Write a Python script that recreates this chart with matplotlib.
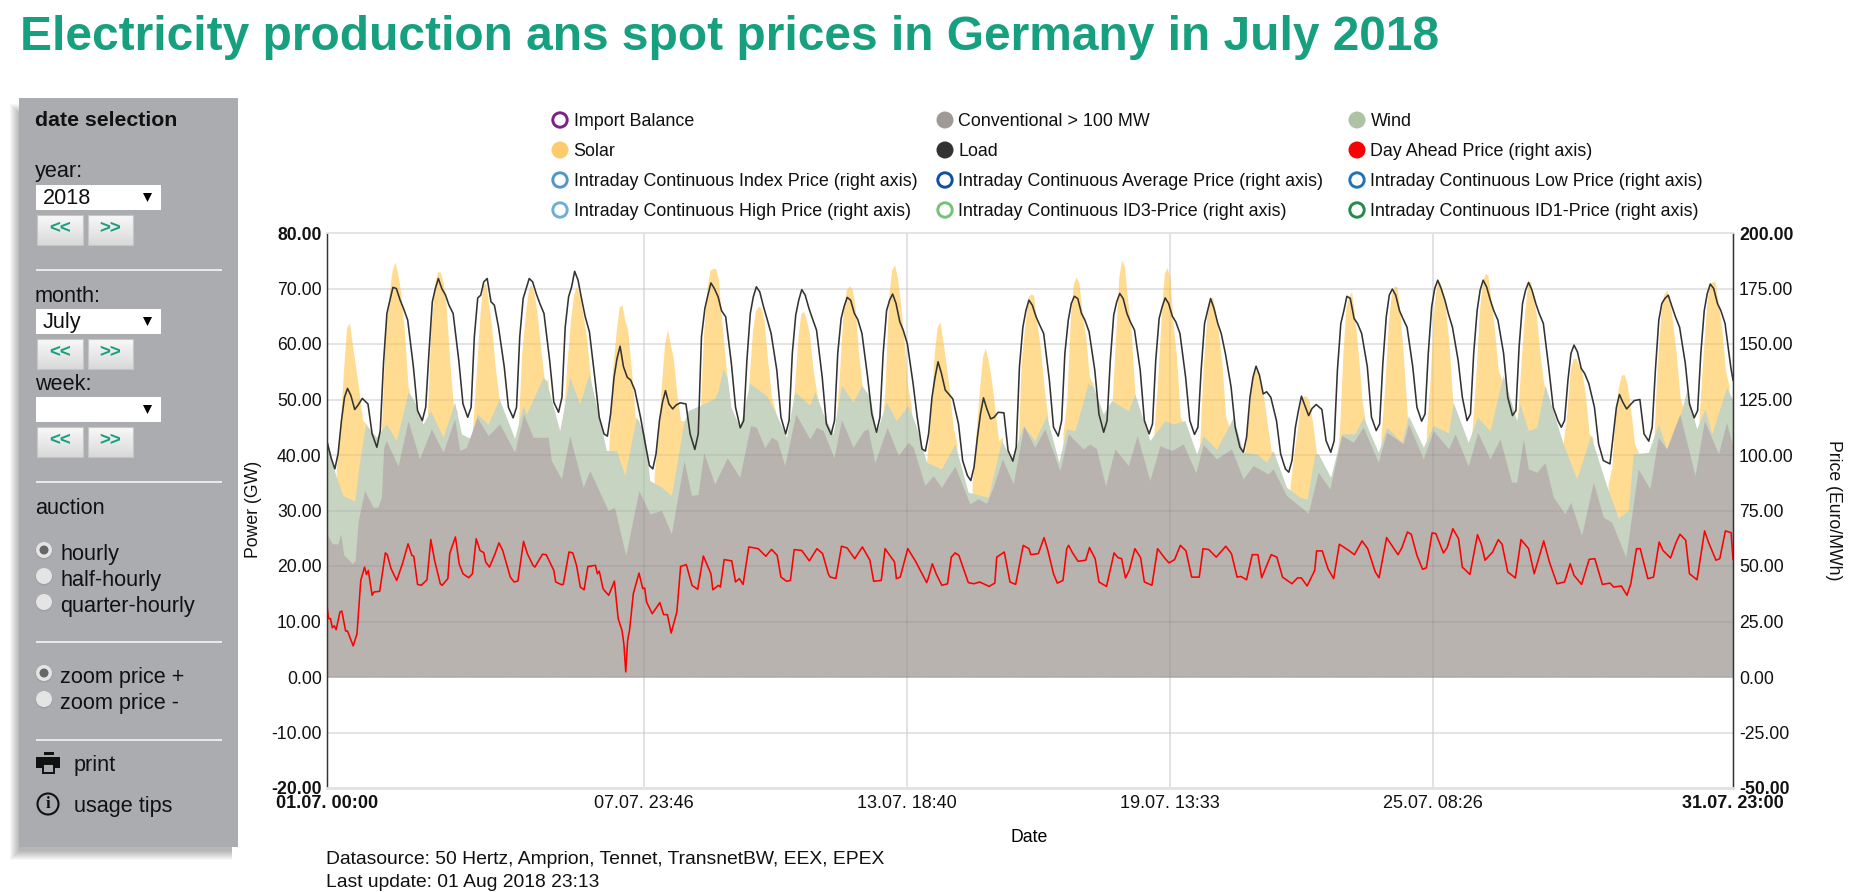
import matplotlib
matplotlib.use('Agg')
import matplotlib.pyplot as plt
import numpy as np
from matplotlib.patches import Rectangle, Circle, Polygon

plt.rcParams['font.family'] = ['Liberation Sans', 'DejaVu Sans']

# x axis: hours since 01.07. 00:00
tick_hours = [0, 167.77, 306.67, 445.55, 584.43, 743]
tick_labels = ['01.07. 00:00', '07.07. 23:46', '13.07. 18:40', '19.07. 13:33', '25.07. 08:26', '31.07. 23:00']
power_ticks = [80, 70, 60, 50, 40, 30, 20, 10, 0, -10, -20]
power_labels = ['80.00', '70.00', '60.00', '50.00', '40.00', '30.00', '20.00', '10.00', '0.00', '-10.00', '-20.00']
price_ticks = [200, 175, 150, 125, 100, 75, 50, 25, 0, -25, -50]
price_labels = ['200.00', '175.00', '150.00', '125.00', '100.00', '75.00', '50.00', '25.00', '0.00', '-25.00', '-50.00']

# conventional generation, GW
conv_hours = [0, 3, 6, 7.4, 9, 13.6, 15, 16.6, 20, 24.5, 27, 28.9, 30.1, 31.5, 37.7, 43, 49, 55.3, 61.5, 67.6, 70.3, 73.8,
              79.4, 85.3, 91.4, 99.3, 104, 109, 117, 118.7, 124, 128.4, 135.5, 139, 148.7, 152, 158, 164.9, 170.7,
              176.9, 182.1, 188.8, 192.7, 196.2, 199.2, 205, 211.6, 218.2, 223.9, 227, 231.5, 234.9, 238, 242,
              247.8, 255.2, 258.8, 262.3, 268, 272, 278.1, 283.8, 286, 289.6, 296.1, 302, 307.2, 309.9, 316,
              320.4, 324.8, 331.9, 339.8, 344.2, 348.6, 352.1, 357, 362.7, 368.3, 374.1, 379.4, 387.4, 391.8,
              399.7, 403.2, 406.7, 411.5, 416.4, 423.5, 428.2, 434.9, 440.2, 446.4, 452.5, 459.2, 463.1, 470.1,
              478, 484.2, 489.5, 497.4, 500, 507.1, 518.6, 523.8, 530, 536.2, 542.4, 547.6, 555.6, 560, 568.8,
              571.5, 579.4, 584.7, 592.7, 596.2, 603.1, 608.1, 614.6, 619.9, 626, 628.7, 632.2, 634.9, 639.3,
              643.7, 648.1, 654.2, 657.2, 663, 669.2, 674.5, 678.9, 686.4, 692.9, 699.1, 703.5, 707.9, 714.9,
              722.9, 727.9, 735.3, 739.6, 743]
conv_gw = [25.8, 24, 24, 25.8, 22, 20.4, 21, 28, 33.6, 30.6, 30.6, 32.4, 41.4, 42.6, 38, 46.2, 39.3, 44.7, 40.5, 46.5, 40.8, 41.4,
           46.8, 43.5, 45.6, 40.5, 47.4, 43.2, 43.2, 39, 35.7, 43.5, 34.2, 37.2, 30, 30.6, 21.9, 33.6, 29.4,
           30, 25.8, 39, 32.7, 32.9, 40.4, 34.8, 39.5, 36, 45.3, 45, 41.3, 43.2, 42.6, 38.1,
           47.4, 42.9, 45, 44.4, 39.5, 46.4, 41.4, 44.4, 44.7, 38.6, 45, 39.9, 42.3, 41.4, 34.5,
           36.3, 34.2, 38, 31.2, 32.1, 31.3, 34.2, 39.3, 34.8, 45.2, 41.4, 44.7, 37.2, 43.8,
           41.1, 42, 41.1, 34.4, 41.1, 38.1, 43.5, 35.4, 41.7, 40.8, 42, 36.8, 41.9, 39.3,
           41.1, 35.7, 38.1, 36.6, 37.5, 32.7, 29.5, 36.9, 33.9, 43.5, 42.3, 45, 38.7, 44.1, 42,
           45.6, 39.3, 44.4, 41.1, 43.8, 38, 44.1, 39.3, 42.9, 35.1, 35.1, 42.9, 37.5, 36.9,
           38.6, 32.4, 29.4, 31.5, 25.5, 35.1, 28.8, 27.9, 21.6, 37.5, 33.9, 43.2, 41.1, 47.4,
           36.3, 46.2, 40.2, 45.9, 41.4]

# top of the wind band (conventional + wind), GW
wind_hours = [0, 3, 5.1, 8.6, 14.8, 17.4, 20.6, 26.2, 31.5, 36.8, 43, 46.5, 50.9, 54.8, 61.5, 67.6, 71.2, 76.4, 79.4,
              85.3, 91.1, 99.3, 103.8, 105.5, 114.3, 116, 123.1, 128.4, 133.7, 138.6, 147.8, 153.1, 157.5, 163.6,
              168, 170.7, 176.9, 182.1, 188.7, 191, 198.9, 205, 206.8, 209.4, 211.5, 213.6, 218.2, 223.5, 232.3, 236.7, 242.9, 247.3,
              255.2, 257.9, 262.3, 267.6, 272, 278.1, 282.6, 286.9, 290.5, 295.7, 301, 307.2, 311.6, 316.9, 324.8,
              331.9, 338.9, 349.5, 356.6, 361.8, 368, 374.1, 380.3, 386.8, 390.9, 395.3, 402.3, 405, 410.3, 414.7,
              423.5, 427, 434.9, 442.8, 447.2, 453.4, 459.6, 463.1, 470.1, 479, 484.2, 491.3, 496.6, 500, 507.1,
              514.2, 518, 522.1, 523.9, 530.4, 536.2, 543.2, 547.6, 555.6, 560, 568, 571.5, 579.4, 584.7, 592.7,
              595.2, 603.1, 608, 614.6, 621.6, 628.7, 630.4, 634.9, 639.3, 643.7, 653.3, 660.4, 667.8, 676.2,
              682.3, 687.7, 690.3, 698.3, 703.5, 707.9, 712.3, 718.5, 723.8, 728.2, 731.8, 739.6, 743]
wind_gw = [43.2, 38.4, 36, 32.7, 31.7, 39, 45.6, 43.2, 45.6, 42.6, 51.4, 49.6, 45.6, 48, 43.2, 49.5, 43.8, 42.9, 47.4,
           45.6, 50.1, 43, 49, 47.4, 54, 53.4, 44.4, 54, 49.2, 54.7, 40.8, 40.8, 36.3, 46.8,
           43.8, 35.4, 34.2, 32.7, 45.9, 48, 49.2, 50.2, 51.6, 55.6, 54, 48.6, 45, 52.9, 50.7, 48, 43.2, 51.4,
           49, 51.4, 47.4, 43.8, 52.6, 49.5, 52.6, 50.5, 44.1, 49.5, 46.2, 49, 45, 38.7, 37.5,
           42, 33.3, 32.4, 42.6, 39, 45.3, 42.6, 47.1, 38.7, 44.7, 44.4, 52.9, 52.3, 47.4, 49.8,
           48, 51, 42.6, 46.2, 45.6, 46.2, 40.2, 43.5, 41, 46.8, 40.5, 40.2, 38.7, 40.8, 34.2,
           32.4, 32, 40.2, 40.2, 36, 43.8, 43.8, 46.8, 40.5, 45, 42.3, 47.1, 41.4, 45.3, 44,
           49.5, 42.3, 46.8, 44.4, 54.4, 46.2, 49.2, 44.4, 45, 52.6, 42, 35.7, 43.5, 34.5,
           28.7, 30, 40.2, 40.5, 45.6, 41.1, 43.2, 51.6, 44.7, 48.3, 43.8, 52.2, 49.8]

# top of the solar band for each day at these hours of the day, GW
solar_offsets = [5, 7, 9, 10.5, 12, 13.5, 15, 17, 19, 21]
solar_top = [
    [37.2, 45, 55.9, 63, 63.8, 60, 56.5, 51.7, 46.2, 45.6],
    [45, 62, 69, 73.2, 74.8, 72.7, 69.7, 62.5, 52.3, 49.8],
    [45.6, 62.5, 70.9, 73, 73, 71.2, 67.3, 57, 48.6, 48],
    [44.4, 54.7, 65.5, 70.6, 70.9, 67.3, 63.7, 55.9, 50.5, 47.4],
    [43.8, 58.3, 65.5, 69.7, 70.8, 69.4, 66, 59.5, 53.5, 53.5],
    [46.2, 57, 64.9, 69, 70.5, 69, 66, 61.9, 55.3, 48.6],
    [40.8, 55.3, 62.5, 66.7, 67, 64.3, 62.5, 55.3, 46.8, 46.2],
    [36.6, 43.2, 53.5, 60, 62.6, 60, 57.7, 51, 46.2, 46.2],
    [43.8, 61.3, 70.3, 73.3, 73.6, 73.6, 71.5, 63, 55.9, 49.8],
    [41.4, 52.9, 62.5, 66, 66.8, 66.5, 64.3, 57, 50.5, 48],
    [43.8, 51.6, 61.3, 65.5, 65.9, 64.3, 61.9, 55.3, 51, 48],
    [45.6, 55.3, 66.7, 69.7, 70.5, 70, 67.3, 58.3, 52.3, 50.5],
    [43.2, 52.3, 69, 73.3, 74.3, 72, 67.9, 60.7, 52.3, 48.6],
    [39, 47.4, 58.3, 63, 64, 60.7, 57, 51.7, 45, 42],
    [34.8, 43.8, 52.3, 57.7, 59.3, 57, 54, 48.6, 42.6, 43.2],
    [39, 57, 63.7, 68.5, 69, 68.8, 64.3, 59.5, 52.3, 46.8],
    [43.8, 49.8, 65.5, 70.9, 72.1, 70.9, 66, 61.3, 54, 52.9],
    [46.2, 49.8, 62.5, 72.1, 75.2, 73.9, 68.5, 62.5, 51, 48],
    [43.8, 53.5, 65.5, 72.7, 73.8, 72, 64.3, 57.7, 46.8, 45.6],
    [40.2, 55.3, 64.9, 67.9, 68.5, 66, 62.5, 56.5, 46.8, 45],
    [40.2, 46.8, 54, 55.3, 55.1, 52.3, 50.5, 45.6, 40.8, 40.2],
    [34.5, 40.2, 45, 49.8, 50.6, 50.6, 49.8, 45.6, 40.2, 39],
    [36.6, 43.8, 58.9, 66.7, 68.6, 69.4, 65.5, 58.3, 49.9, 45.6],
    [43.2, 52.3, 64.3, 69, 70.5, 70.3, 66, 57, 46.8, 45],
    [43.8, 54, 66.7, 70.9, 71.2, 69.7, 66.7, 60, 49.2, 46.8],
    [43.8, 53.5, 66, 70.9, 72.7, 72.4, 68.5, 62.5, 55.3, 53.5],
    [46.2, 56.5, 66, 70.6, 71.4, 68.5, 65.5, 58.3, 52.9, 49.8],
    [41.4, 46.8, 55.3, 57.4, 57.4, 56.2, 55.3, 51, 43.8, 43.2],
    [34.8, 37.8, 48.6, 52.3, 54.4, 54.5, 52.9, 48, 42, 40.5],
    [41.4, 56.5, 66, 69, 69.7, 67.9, 64.3, 58.3, 50.5, 48],
    [46.2, 57, 66.7, 70.9, 71.2, 71.3, 67.9, 63, 55.3, 52.3],
]

# load for each day at these hours of the day, GW
load_offsets = [0, 2.5, 4.3, 6, 7.8, 9.4, 11, 12.8, 14.8, 16.6, 18.8, 21.8]
load_gw = [
    [42.6, 39.3, 37.5, 40.2, 46.2, 50.4, 52, 50.7, 48.2, 49, 50.2, 49.2],
    [43.8, 41.4, 44.4, 56.5, 65.5, 67.9, 70.2, 70, 67.9, 66.4, 64.3, 55.9],
    [48, 46.2, 48.6, 58.3, 67.6, 70, 71.8, 70, 68.8, 67, 65.5, 57],
    [49.2, 46.8, 48.6, 61.3, 68.3, 68.8, 71.2, 71.8, 67.6, 67, 63, 55.9],
    [48.6, 46.7, 48.6, 61.3, 68.2, 70, 71.8, 71.2, 69, 67.3, 65.5, 57],
    [49.5, 47.7, 50.4, 63, 68.5, 70.3, 73.1, 71.5, 67.9, 64.9, 62.2, 53.5],
    [46.8, 43.8, 43.4, 47.4, 54, 57.4, 59.6, 55.9, 54, 53.5, 51.7, 46.8],
    [42.6, 38.1, 37.5, 40.2, 46.2, 49.5, 51.6, 49.2, 48.3, 49, 49.4, 49.2],
    [43.8, 41, 43.8, 61.3, 66.4, 68.8, 71, 70, 68.5, 66, 64.9, 56.5],
    [48.6, 44.9, 46.2, 57, 65.5, 68.5, 70.3, 69.4, 66.7, 64.6, 61.9, 55.3],
    [46.8, 43.8, 46.2, 58.3, 65.2, 67.9, 69.8, 68.8, 66.4, 64.6, 62.5, 54],
    [45.6, 43.7, 46.2, 58.3, 64.6, 66.8, 68.4, 67.9, 65.5, 64.4, 61.9, 54],
    [47.4, 44.1, 46.8, 58.3, 66, 67.9, 69, 67.3, 64, 62.5, 60, 52.9],
    [46.8, 41.1, 40.7, 43.8, 50.4, 54, 56.8, 54.7, 51.7, 51, 50.1, 45.6],
    [39, 36.3, 35.4, 37.8, 43.2, 47.4, 50.3, 48.3, 46.5, 46.8, 47.7, 47.6],
    [40.8, 38.9, 41.4, 55.9, 63, 66, 67.9, 67, 64.9, 63.5, 61.9, 53.5],
    [45, 43.4, 46.2, 58.3, 64.3, 67.3, 68.6, 68.2, 65.5, 64.3, 62.2, 55.3],
    [47.4, 44.1, 46.2, 57, 65.2, 67.6, 69.1, 68.2, 65.5, 64, 62.5, 55.3],
    [46.2, 43.8, 45.6, 57, 64.6, 66.7, 68.3, 67.3, 65, 64, 61.9, 54],
    [46.2, 43.7, 45, 55.3, 63.7, 66, 68.2, 66.4, 63.7, 61.9, 58.3, 52.3],
    [45, 41.4, 40.5, 43.2, 50.4, 54, 56, 54.4, 51, 51.4, 50.4, 46.2],
    [40.2, 37.5, 36.9, 39, 45, 48, 50.6, 48.9, 47.1, 48.4, 49.1, 48.2],
    [42.6, 40.5, 42.6, 55.3, 63.7, 66, 68.6, 68.2, 64.6, 63.7, 61.9, 55.9],
    [46.8, 44.4, 45.6, 56.5, 64.9, 68.8, 69.9, 68.8, 66, 64.6, 63, 55.9],
    [48.6, 46.1, 47.4, 58.3, 66.7, 70, 71.5, 70, 67.9, 65.5, 63, 57],
    [50.4, 46.2, 47.4, 58.3, 66, 69.7, 71.5, 70.3, 67.9, 66, 64.3, 58.3],
    [50.4, 47.1, 48, 59.5, 67.3, 69.7, 71.1, 69.7, 67.3, 65.5, 63.7, 55.3],
    [48.6, 46.2, 45, 46.2, 53.5, 58.3, 59.8, 58.6, 55.6, 54.7, 52.9, 48.6],
    [42, 39, 38.7, 38.4, 43.8, 48.6, 50.9, 49.5, 48.3, 49, 49.8, 50],
    [43.8, 42.5, 45, 55.3, 64.3, 67.3, 68.2, 68.8, 66.7, 64.9, 63, 56.5],
    [49.2, 46.7, 48, 58.3, 66, 69.1, 70.8, 70, 67.3, 66, 63.7, 55.9],
]
load_end = 53.5

# day ahead price, Euro/MWh
price_hours = [0, 1, 2, 3, 4, 5, 7, 8, 10, 11, 14, 16, 18, 20, 21, 22, 24, 25, 28, 31, 32, 34, 37, 40, 43, 45, 46, 48,
               50, 53, 55, 57, 60, 61, 64, 65, 68, 70, 72, 75, 77, 79, 81, 83, 84, 86, 89, 91, 93, 97, 99, 101, 104,
               106, 109, 110, 114, 116, 120, 121, 124, 125, 128, 130, 132, 134, 136, 138, 142, 143, 144, 146, 147,
               149, 152, 154, 156, 157, 158, 159, 160, 162, 165, 167, 168, 169, 172, 176, 178, 180, 182, 185, 187,
               190, 193, 196, 199, 203, 204, 207, 208, 210, 214, 216, 218, 220, 223, 228, 232, 235, 238, 240, 243,
               245, 247, 251, 255, 259, 262, 265, 266, 269, 272, 275, 279, 283, 287, 289, 293, 295, 300, 301, 303,
               307, 311, 317, 318, 320, 322, 325, 328, 330, 332, 334, 339, 342, 345, 350, 353, 354, 358, 361, 364,
               368, 371, 372, 376, 379, 381, 384, 386, 389, 391, 392, 394, 397, 401, 403, 406, 408, 412, 416, 418,
               420, 422, 424, 427, 430, 432, 436, 439, 443, 445, 448, 451, 454, 457, 461, 463, 466, 470, 475, 478,
               481, 483, 486, 489, 492, 494, 499, 502, 505, 510, 513, 515, 518, 522, 523, 526, 529, 532, 535, 540,
               543, 547, 550, 554, 556, 560, 566, 568, 571, 573, 576, 579, 581, 584, 586, 590, 592, 595, 598, 600,
               604, 608, 610, 612, 616, 619, 621, 624, 628, 631, 635, 638, 643, 646, 650, 654, 657, 659, 663, 667,
               670, 674, 678, 680, 684, 687, 689, 692, 694, 698, 701, 704, 706, 710, 713, 715, 718, 720, 724, 728,
               730, 734, 736, 739, 742, 743]
price_eur = [33, 26.3, 26.3, 22.2, 23.1, 21.3, 29.3, 29.7, 20.7, 20.7, 14, 19.5, 43.5, 49.5, 46.2, 48, 36.8, 38.3, 38.6,
             55.9, 55.1, 48.8, 43.5, 51, 60, 54.8, 54.4, 41.7, 41.3, 43.8, 61.9, 52.6, 42, 41.3, 44.3, 55.6, 63.1, 51,
             46.5, 44.7, 46.5, 62.3, 57, 56, 51.8, 49.5, 55.6, 60.4, 57, 45, 42.8, 43.2, 61.1, 55.6, 50.3, 49.5, 55.3,
             55.1, 48, 42.8, 41.6, 41.7, 56.3, 55.9, 50.3, 40.5, 39.3, 49.8, 50.3, 46.5, 47.7, 39.8, 38.7, 36.8, 43.2,
             26.3, 21, 15, 2.3, 16.5, 21, 37.5, 46.8, 39.8, 40.1, 33.8, 28.5, 33.5, 28.1, 28.1, 19.8, 29.3, 49.8, 50.6,
             41.3, 39.5, 54.5, 46.5, 39.3, 41.3, 40.5, 52.9, 52.3, 42.8, 44.3, 41.7, 58.6, 57.8, 54.4, 57.5, 54.8, 45,
             43.1, 43.5, 57.4, 57, 52.3, 57.8, 55.6, 46.5, 45, 44.4, 58.9, 58.1, 53.3, 58.6, 52.6, 43.1, 43.5, 57.8,
             51.8, 44.3, 45, 57.8, 52.3, 42.5, 45, 51, 46.5, 41.3, 42, 54, 55.9, 54.8, 42.5, 42, 42.8, 40.8, 42.3, 54,
             56.3, 42.8, 41.7, 59.3, 57.8, 55.1, 55.6, 62.8, 57, 46.5, 42.3, 43.5, 57.8, 59.3, 56, 52.1, 52.6, 58.3,
             53.3, 42.8, 40.8, 55.9, 53.8, 53.3, 44.6, 48, 57.8, 53.8, 42.8, 41.3, 57.8, 53.3, 51.4, 52.9, 59.3, 56.8,
             45, 45, 57.8, 57.4, 54, 58.9, 55.6, 45, 45.3, 43.8, 55.1, 55.1, 44.7, 55.1, 54, 45, 42, 44.7, 44.6, 41,
             48, 56.8, 56.8, 48.8, 44.3, 59.8, 57, 55.1, 61.3, 57.8, 47.3, 44.7, 62.8, 55.1, 58.1, 65.3, 64.3, 54.8,
             48.5, 49.2, 64.9, 64.6, 55.9, 58.3, 66.8, 62.3, 49.5, 46.2, 64.1, 59.8, 52.6, 56.3, 61.9, 59.8, 47.3,
             44.6, 61.9, 57.8, 46.5, 61.3, 51.8, 42, 42.8, 51, 45.8, 41.7, 53, 53.3, 41.7, 42.3, 40.5, 41, 36.8, 42,
             57.8, 57.8, 44.3, 45, 60.8, 57, 53.6, 60.8, 64.3, 61.6, 46.5, 43.8, 65.8, 60.8, 52.6, 53.3, 65.8, 65, 53]

legend_names = ['Import Balance', 'Conventional > 100 MW', 'Wind',
                'Solar', 'Load', 'Day Ahead Price (right axis)',
                'Intraday Continuous Index Price (right axis)', 'Intraday Continuous Average Price (right axis)',
                'Intraday Continuous Low Price (right axis)',
                'Intraday Continuous High Price (right axis)', 'Intraday Continuous ID3-Price (right axis)',
                'Intraday Continuous ID1-Price (right axis)']
legend_colors = ['#7B2383', '#A09A96', '#AEC3A5', '#FECB6B', '#333333', '#FF0000',
                 '#4F97C9', '#0D4FA0', '#2173B7', '#6CAEDA', '#74C476', '#238B45']
legend_filled = [False, True, True, True, True, True, False, False, False, False, False, False]

W, H = 1855, 892
L, R, T, B = 326.7, 1733, 233, 788
TEAL = '#17A07F'

fig = plt.figure(figsize=(W / 100, H / 100), dpi=100, facecolor='white')

# page furniture drawn in pixel coordinates
ui = fig.add_axes([0, 0, 1, 1], zorder=0)
ui.set_xlim(0, W)
ui.set_ylim(H, 0)
ui.axis('off')


def px_text(x, y, s, size=15.6, **kw):
    ui.text(x, y, s, fontsize=size, va='baseline', color=kw.pop('color', '#111111'), **kw)


def select_box(y, label):
    ui.add_patch(Rectangle((36, y), 125, 25, fc='white', ec='none', zorder=3))
    ui.add_patch(Polygon([[143, y + 8], [152, y + 8], [147.5, y + 17]], fc='black', ec='none', zorder=4))
    if label:
        px_text(42.5, y + 19, label, zorder=4)


def buttons(y):
    grad = np.linspace(0.97, 0.85, 30).reshape(-1, 1)
    for x0, x1, s in [(37, 83, '<<'), (88, 133, '>>')]:
        ui.imshow(grad, extent=(x0, x1, y + 30, y), aspect='auto', cmap='gray', vmin=0, vmax=1, zorder=3)
        ui.add_patch(Rectangle((x0, y), x1 - x0, 30, fc='none', ec='#C6C6C6', lw=0.8, zorder=4))
        ui.text((x0 + x1) / 2, y + 14, s, color=TEAL, fontsize=13.5, fontweight='bold', ha='center', va='center', zorder=5)


def radio(y, selected):
    ui.add_patch(Circle((44, y + 1), 8.5, fc='#9E9FA2', ec='none', zorder=3))
    ui.add_patch(Circle((44, y), 8, fc='#E4E4E4', ec='none', zorder=4))
    if selected:
        ui.add_patch(Circle((44, y), 4.5, fc='#666666', ec='none', zorder=5))


ui.text(20, 50, 'Electricity production ans spot prices in Germany in July 2018', color=TEAL,
        fontsize=34.5, fontweight='bold', va='baseline')

# side panel with soft shadow
for i in range(10):
    ui.add_patch(Rectangle((10 + i, 104 + i), 222 - i, 756 - 2 * i, fc='black', ec='none', alpha=0.03, zorder=1))
ui.add_patch(Rectangle((19, 98), 219, 749, fc='#ABACB0', ec='none', zorder=2))

px_text(35, 126, 'date selection', size=15.3, fontweight='bold', zorder=4)
px_text(35, 177, 'year:', zorder=4)
select_box(185, '2018')
buttons(215)
px_text(35, 302, 'month:', zorder=4)
select_box(309, 'July')
buttons(339)
px_text(35, 390, 'week:', zorder=4)
select_box(397, '')
buttons(427)
px_text(35, 514, 'auction', zorder=4)
radio(550, True)
px_text(60, 560, 'hourly', zorder=4)
radio(576, False)
px_text(60, 586, 'half-hourly', zorder=4)
radio(602, False)
px_text(60, 612, 'quarter-hourly', zorder=4)
radio(673, True)
px_text(60, 683, 'zoom price +', zorder=4)
radio(699, False)
px_text(60, 709, 'zoom price -', zorder=4)
for y in [269.5, 481.7, 641.7, 739.5]:
    ui.add_patch(Rectangle((36, y - 1), 186, 2, fc='#E8E8E8', ec='none', zorder=3))

# print icon
ui.add_patch(Rectangle((44, 752), 10, 3, fc='#111111', ec='none', zorder=4))
ui.add_patch(Rectangle((36, 757), 24, 11, fc='#111111', ec='none', zorder=4))
ui.add_patch(Rectangle((43, 764), 11, 9, fc='#ABACB0', ec='#111111', lw=1.4, zorder=5))
px_text(74, 771, 'print', zorder=4)
# info icon
ui.add_patch(Circle((48, 804), 10.5, fc='none', ec='#111111', lw=1.5, zorder=4))
ui.text(48, 804.5, 'i', family=['Liberation Serif', 'DejaVu Serif'], fontweight='bold', fontsize=12,
        ha='center', va='center', color='#111111', zorder=4)
px_text(74, 812, 'usage tips', zorder=4)

# legend, 3 columns by 4 rows
col_x = [560, 945, 1357]
row_y = [120, 150, 180, 210]
for i, (name, colour, filled) in enumerate(zip(legend_names, legend_colors, legend_filled)):
    x = col_x[i % 3]
    y = row_y[i // 3]
    if filled:
        ui.add_patch(Circle((x, y), 8.5, fc=colour, ec='none'))
    else:
        ui.add_patch(Circle((x, y), 7.2, fc='white', ec=colour, lw=2.1))
    ui.text(x + 13.5, y + 5.5, name, fontsize=12.9, va='baseline', color='#111111')

ui.text(326, 864, 'Datasource: 50 Hertz, Amprion, Tennet, TransnetBW, EEX, EPEX', fontsize=13.85, color='#111111')
ui.text(326, 887, 'Last update: 01 Aug 2018 23:13', fontsize=13.85, color='#111111')
ui.set_xlim(0, W)
ui.set_ylim(H, 0)

# chart
ax = fig.add_axes([L / W, 1 - B / H, (R - L) / W, (B - T) / H], zorder=1)
ax.patch.set_alpha(0)
ax.set_xlim(0, 743)
ax.set_ylim(-20, 80)

# pale grid under the areas, a faint one over them
for t in tick_hours[1:-1]:
    ax.axvline(t, color='#EFEFEF', lw=1.4, zorder=0.5)
for t in power_ticks[1:-1]:
    ax.axhline(t, color='#EFEFEF', lw=1.2, zorder=0.5)

for day, row in enumerate(solar_top):
    hours = [24 * day + o for o in solar_offsets]
    ax.fill_between(hours, 0, row, color='#FFDC92', lw=0, zorder=1)
ax.fill_between(wind_hours, 0, wind_gw, color='#C7D4C1', lw=0, zorder=1.1)
ax.fill_between(conv_hours, 0, conv_gw, color='#B9B3B0', lw=0, zorder=1.2)

load_hours = [24 * day + o for day in range(len(load_gw)) for o in load_offsets] + [743]
load_values = [v for row in load_gw for v in row] + [load_end]
ax.plot(load_hours, load_values, color='#333333', lw=1.15, zorder=2)

ax.set_axisbelow('line')
ax.grid(True, color='black', alpha=0.06, lw=1.2)
ax.set_xticks(tick_hours)
ax.set_xticklabels(tick_labels, fontsize=13, color='#111111')
ax.set_yticks(power_ticks)
ax.set_yticklabels(power_labels, fontsize=12.7, color='#111111')
ax.tick_params(axis='both', length=0)
ax.tick_params(axis='x', pad=5)
ax.tick_params(axis='y', pad=3.6)
for lab in [ax.get_xticklabels()[0], ax.get_xticklabels()[-1], ax.get_yticklabels()[0], ax.get_yticklabels()[-1]]:
    lab.set_fontweight('bold')
ax.set_xlabel('Date', fontsize=12.7, labelpad=0)
ax.xaxis.set_label_coords((1029 - L) / (R - L), -(836 - B - 7) / (B - T))
ax.set_ylabel('Power (GW)', fontsize=12.7, color='#111111')
ax.yaxis.set_label_coords((262 - L) / (R - L), (B - 509) / (B - T))

ax2 = ax.twinx()
ax2.patch.set_alpha(0)
ax2.set_ylim(-50, 200)
ax2.plot(price_hours, price_eur, color='#FF0000', lw=1.15)
ax2.set_yticks(price_ticks)
ax2.set_yticklabels(price_labels, fontsize=12.7, color='#111111')
ax2.tick_params(axis='y', length=0, pad=4.3)
for lab in [ax2.get_yticklabels()[0], ax2.get_yticklabels()[-1]]:
    lab.set_fontweight('bold')
ax2.set_ylabel('Price (Euro/MWh)', fontsize=12.7, color='#111111', rotation=270, va='center')
ax2.yaxis.set_label_coords((1833 - L) / (R - L), (B - 510) / (B - T))

for a in (ax, ax2):
    a.spines['top'].set_color('#E3E3E3')
    a.spines['top'].set_linewidth(1.4)
    a.spines['bottom'].set_color('#E3E3E3')
    a.spines['bottom'].set_linewidth(2)
    a.spines['left'].set_color('#333333')
    a.spines['left'].set_linewidth(0.9)
    a.spines['right'].set_color('#333333')
    a.spines['right'].set_linewidth(0.9)

fig.savefig('out.png', dpi=100)
